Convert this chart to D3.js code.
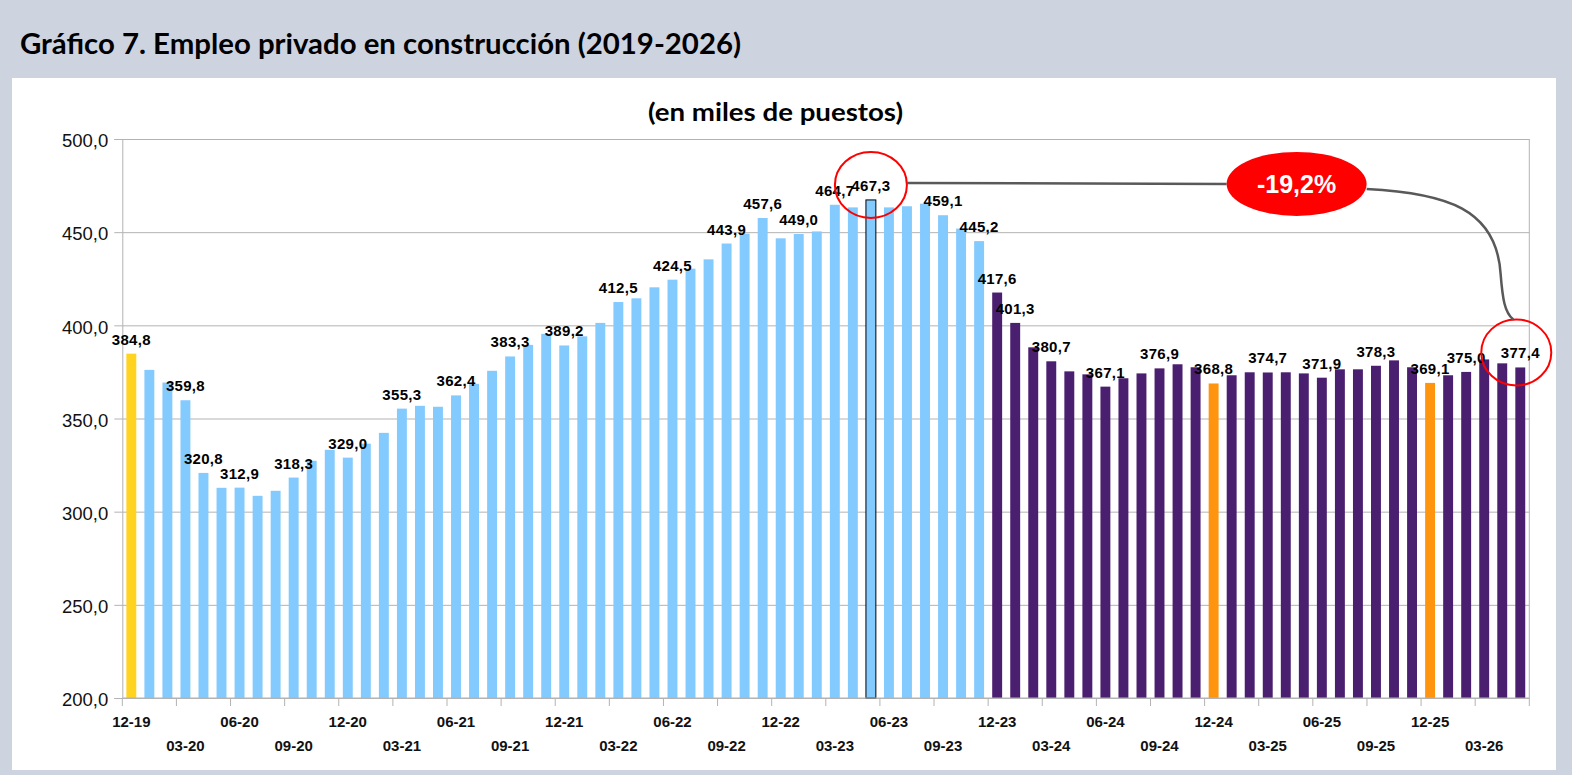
<!DOCTYPE html>
<html lang="es">
<head>
<meta charset="utf-8">
<script src="https://cdnjs.cloudflare.com/ajax/libs/d3/7.8.5/d3.min.js"></script>
<style>
    body { margin: 0; background: #ced3e0; }
    svg { display: block; }
    .title { font-family: Lato, 'Noto Sans', sans-serif; font-weight: bold; fill: #000; }
    .axis text { font-family: 'Liberation Sans', Arial, sans-serif; fill: #111; }
    .lbl { font-family: 'Liberation Sans', Arial, sans-serif; font-weight: bold; font-size: 15px; letter-spacing: 0.3px; fill: #000; }
</style>
</head>
<body>
<svg></svg>
<script>
// meses (12-19 ... 05-26)
const categories = [
    '12-19','01-20','02-20','03-20','04-20','05-20','06-20','07-20','08-20','09-20','10-20','11-20',
    '12-20','01-21','02-21','03-21','04-21','05-21','06-21','07-21','08-21','09-21','10-21','11-21',
    '12-21','01-22','02-22','03-22','04-22','05-22','06-22','07-22','08-22','09-22','10-22','11-22',
    '12-22','01-23','02-23','03-23','04-23','05-23','06-23','07-23','08-23','09-23','10-23','11-23',
    '12-23','01-24','02-24','03-24','04-24','05-24','06-24','07-24','08-24','09-24','10-24','11-24',
    '12-24','01-25','02-25','03-25','04-25','05-25','06-25','07-25','08-25','09-25','10-25','11-25',
    '12-25','01-26','02-26','03-26','04-26','05-26'
]
// miles de puestos
const values = [
    384.8, 376.1, 369.3, 359.8, 320.8, 312.8, 312.9, 308.5, 311.2, 318.3, 327.3, 333.2,
    329.0, 336.5, 342.3, 355.3, 356.8, 356.3, 362.4, 368.6, 375.6, 383.3, 389.5, 395.4,
    389.2, 394.1, 401.3, 412.5, 414.5, 420.4, 424.5, 430.4, 435.4, 443.9, 449.2, 457.6,
    446.7, 449.0, 450.4, 464.7, 463.3, 467.3, 463.3, 463.9, 465.3, 459.1, 451.9, 445.2,
    417.6, 401.3, 388.2, 380.7, 375.3, 373.7, 367.1, 371.6, 374.2, 376.9, 379.1, 377.5,
    368.8, 373.2, 374.8, 374.7, 374.8, 374.2, 371.9, 376.4, 376.4, 378.3, 381.2, 377.5,
    369.1, 373.2, 375.0, 381.7, 379.6, 377.4
]
const tickLabels = [
    '12-19','03-20','06-20','09-20','12-20','03-21','06-21','09-21','12-21','03-22','06-22','09-22',
    '12-22','03-23','06-23','09-23','12-23','03-24','06-24','09-24','12-24','03-25','06-25','09-25',
    '12-25','03-26'
]
const yTicks = [200, 250, 300, 350, 400, 450, 500]
// meses con etiqueta de valor
const labeled = [
    '12-19','03-20','04-20','06-20','09-20','12-20','03-21','06-21','09-21','12-21','03-22','06-22',
    '09-22','11-22','01-23','03-23','05-23','09-23','11-23','12-23','01-24','03-24','06-24','09-24',
    '12-24','03-25','06-25','09-25','12-25','02-26','05-26'
]
const yellowMonths = ['12-19']
const orangeMonths = ['12-24', '12-25']
const secondPeriodStart = '12-23'
const peakMonth = '05-23'
const lastMonth = '05-26'
const changeText = '-19,2%'

const W = 1572, H = 775
const plot = { left: 122.3, right: 1529.3, top: 139, bottom: 698 }

const svg = d3.select('svg').attr('width', W).attr('height', H)

// panel blanco
svg.append('rect').attr('x', 12).attr('y', 78).attr('width', 1544).attr('height', 692).attr('fill', '#fff')

svg.append('text').attr('class', 'title')
    .attr('x', 20).attr('y', 54)
    .attr('font-size', 28)
    .attr('textLength', 721).attr('lengthAdjust', 'spacingAndGlyphs')
    .text('Gráfico 7. Empleo privado en construcción (2019-2026)')

svg.append('text').attr('class', 'title')
    .attr('x', 775.5).attr('y', 121)
    .attr('text-anchor', 'middle')
    .attr('font-size', 25)
    .attr('textLength', 255).attr('lengthAdjust', 'spacingAndGlyphs')
    .text('(en miles de puestos)')

const x = d3.scaleBand()
    .domain(categories)
    .range([plot.left, plot.right])
    .paddingInner(0.45)
    .paddingOuter(0.225)

const y = d3.scaleLinear()
    .domain([200, 500])
    .range([plot.bottom, plot.top])

const xc = (c) => x(c) + x.bandwidth() / 2
const fmt = (v) => d3.format('.1f')(v).replace('.', ',')

// grid
svg.append('g')
    .attr('transform', 'translate(' + plot.left + ',0)')
    .call(d3.axisLeft(y).tickValues(yTicks).tickSize(-(plot.right - plot.left)).tickFormat(''))
    .call(g => g.select('.domain').remove())
    .selectAll('line').attr('stroke', '#b3b3b3')

svg.append('line')
    .attr('x1', plot.right).attr('x2', plot.right)
    .attr('y1', plot.top).attr('y2', plot.bottom)
    .attr('stroke', '#b3b3b3')

// y axis
const yAxis = svg.append('g').attr('class', 'axis')
    .attr('transform', 'translate(' + plot.left + ',0)')
    .call(d3.axisLeft(y).tickValues(yTicks).tickSize(8).tickPadding(6).tickFormat(fmt))
yAxis.selectAll('line, .domain').attr('stroke', '#b3b3b3')
yAxis.selectAll('text').attr('font-size', 18.5).attr('dy', '0.42em')

// bars
const iStart = categories.indexOf(secondPeriodStart)
const barColor = (c, i) => {
    if (yellowMonths.includes(c)) return '#ffd320'
    if (orangeMonths.includes(c)) return '#ff950e'
    if (i >= iStart) return '#4b1f6f'
    return '#83caff'
}

svg.append('g')
    .selectAll('rect')
    .data(values)
    .enter()
    .append('rect')
    .attr('x', (d, i) => x(categories[i]))
    .attr('y', (d) => y(d))
    .attr('width', x.bandwidth())
    .attr('height', (d) => y(200) - y(d))
    .attr('fill', (d, i) => barColor(categories[i], i))
    .attr('stroke', (d, i) => categories[i] === peakMonth ? '#000' : 'none')
    .attr('stroke-width', 1)

// x axis
svg.append('line')
    .attr('x1', plot.left).attr('x2', plot.right)
    .attr('y1', plot.bottom).attr('y2', plot.bottom)
    .attr('stroke', '#b3b3b3')

svg.append('g')
    .selectAll('line')
    .data(tickLabels.concat(['__end']))
    .enter()
    .append('line')
    .attr('x1', (d) => d === '__end' ? plot.right : x(d) - x.step() * x.paddingInner() / 2)
    .attr('x2', (d) => d === '__end' ? plot.right : x(d) - x.step() * x.paddingInner() / 2)
    .attr('y1', plot.bottom).attr('y2', plot.bottom + 8)
    .attr('stroke', '#b3b3b3')

const xAxis = svg.append('g').attr('class', 'axis')
    .attr('transform', 'translate(0,' + plot.bottom + ')')
    .call(d3.axisBottom(x).tickValues(tickLabels).tickSize(0))
xAxis.select('.domain').remove()
xAxis.selectAll('text')
    .attr('font-size', 15).attr('font-weight', 'bold')
    .attr('dy', 0)
    .attr('y', (d, i) => i % 2 === 0 ? 29 : 53)

// value labels
svg.append('g')
    .selectAll('text')
    .data(labeled)
    .enter()
    .append('text')
    .attr('class', 'lbl')
    .attr('x', (c) => xc(c))
    .attr('y', (c) => y(values[categories.indexOf(c)]) - 9)
    .attr('text-anchor', 'middle')
    .text((c) => fmt(values[categories.indexOf(c)]))

// annotation
const peakY = y(values[categories.indexOf(peakMonth)]) - 15
const lastY = y(values[categories.indexOf(lastMonth)]) - 15
const ann = svg.append('g')
ann.append('ellipse')
    .attr('cx', xc(peakMonth)).attr('cy', peakY)
    .attr('rx', 36).attr('ry', 33)
    .attr('fill', 'none').attr('stroke', '#ff0000').attr('stroke-width', 2)
ann.append('ellipse')
    .attr('cx', xc(lastMonth) - 4).attr('cy', lastY)
    .attr('rx', 35).attr('ry', 33)
    .attr('fill', 'none').attr('stroke', '#ff0000').attr('stroke-width', 2)

const bubbleX = xc('04-25') + x.step() * 0.6, bubbleY = peakY - 1
const p1 = xc(peakMonth) + 36, p2 = xc(lastMonth) - 7
const path = d3.path()
path.moveTo(p1, peakY - 2)
path.lineTo(bubbleX - 70, bubbleY)
ann.append('path').attr('d', path.toString())
    .attr('fill', 'none').attr('stroke', '#595959').attr('stroke-width', 2.5)

const curve = d3.path()
curve.moveTo(bubbleX + 70, bubbleY + 5)
curve.bezierCurveTo(bubbleX + 150, bubbleY + 9, bubbleX + 200, bubbleY + 25, bubbleX + 204, bubbleY + 90)
curve.bezierCurveTo(bubbleX + 206, bubbleY + 115, bubbleX + 208, lastY - 40, p2, lastY - 33)
ann.append('path').attr('d', curve.toString())
    .attr('fill', 'none').attr('stroke', '#595959').attr('stroke-width', 2.5)

ann.append('ellipse')
    .attr('cx', bubbleX).attr('cy', bubbleY)
    .attr('rx', 70).attr('ry', 32)
    .attr('fill', '#ff0000')
ann.append('text')
    .attr('x', bubbleX).attr('y', bubbleY + 9)
    .attr('text-anchor', 'middle')
    .attr('font-family', "'Liberation Sans', Arial, sans-serif")
    .attr('font-weight', 'bold').attr('font-size', 25)
    .attr('fill', '#fff')
    .text(changeText)
</script>
</body>
</html>
